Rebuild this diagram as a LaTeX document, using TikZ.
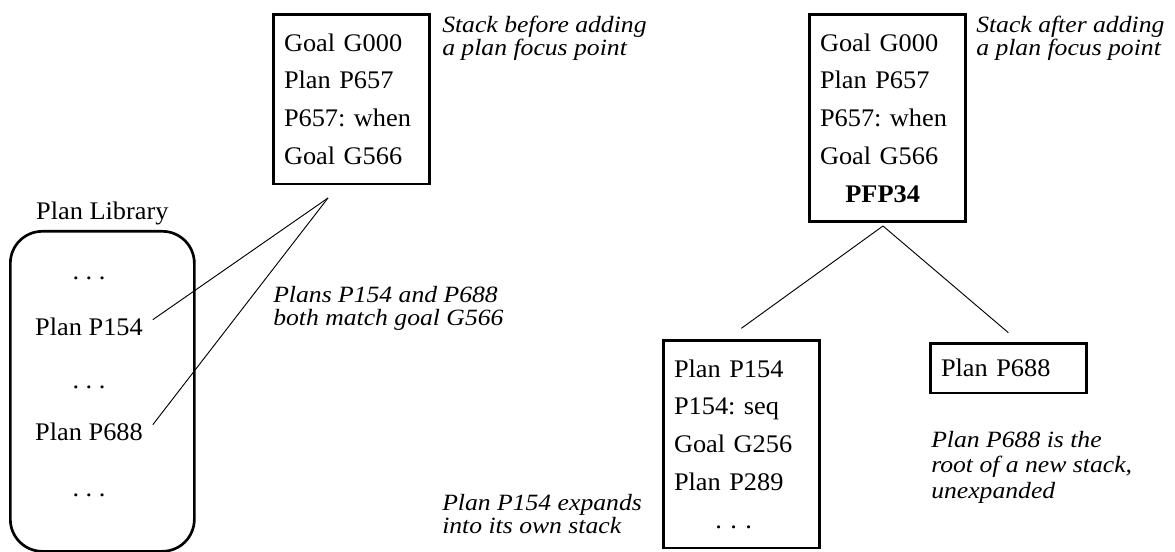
\documentclass[tikz,border=0pt]{standalone}
\usepackage{fontspec}
\setmainfont{Liberation Serif}[FakeStretch=1.04]
\newfontfamily\notefont{Liberation Serif}[FakeStretch=1.1]
\usetikzlibrary{positioning}

\begin{document}
\begin{tikzpicture}[
  x=0.75pt, y=-0.75pt,
  font=\fontsize{19}{28.3}\selectfont\frenchspacing,
  stackbox/.style={rectangle, draw, line width=2pt, text width=101pt, align=left, inner xsep=8pt, inner ysep=14.5pt, anchor=north west},
  libbox/.style={rectangle, draw, line width=2pt, rounded corners=24pt, minimum width=138pt, minimum height=240pt, anchor=north west},
  note/.style={font=\notefont\itshape\fontsize{17.5}{17}\selectfont, align=left, inner sep=0pt, anchor=north west},
  item/.style={anchor=base},
  link/.style={line width=0.7pt},
]
  \useasboundingbox (0,0) rectangle (1175,552);

  % plan library on the left
  \node[libbox] (lib) at (9,230) {};
  \node[above=0pt of lib] (libtitle) {Plan Library};
  \node[item] (dotsa) at (89,280) {.\ .\ .};
  \node[item] (p154) at (89,335) {Plan P154};
  \node[item] (dotsb) at (89,388) {.\ .\ .};
  \node[item] (p688) at (89,440) {Plan P688};
  \node[item] (dotsc) at (89,496) {.\ .\ .};

  % stacks
  \node[stackbox] (stackold) at (272,13) {Goal G000\\Plan P657\\P657: when\\Goal G566};
  \node[stackbox] (stacknew) at (808,13) {Goal G000\\Plan P657\\P657: when\\Goal G566\\\hspace*{19pt}\textbf{PFP34}};
  \node[stackbox] (stackp154) at (662,339) {Plan P154\\P154: seq\\Goal G256\\Plan P289\\\hspace*{31pt}.\ .\ .};
  \node[stackbox, inner ysep=12pt] (stackp688) at (929,342) {Plan P688};

  % notes
  \node[note] (noteold) at (442,16) {Stack before adding\\a plan focus point};
  \node[note] (notenew) at (976,16) {Stack after adding\\a plan focus point};
  \node[note] (notematch) at (273,286) {Plans P154 and P688\\both match goal G566};
  \node[note] (noteexpand) at (442,494) {Plan P154 expands\\into its own stack};
  \node[note] (noteroot) at (931,431) {Plan P688 is the\\[2pt]root of a new stack,\\[2pt]unexpanded};

  % connectors
  \coordinate (match) at (328,198);
  \draw[link] ([shift={(4pt,5pt)}]p154.east) -- (match);
  \draw[link] ([shift={(4pt,5pt)}]p688.east) -- (match);
  \coordinate (fork) at (883,226);
  \draw[link] (fork) -- ([yshift=8pt]stackp154.north);
  \draw[link] (fork) -- ([yshift=7pt]stackp688.north);
\end{tikzpicture}
\end{document}
